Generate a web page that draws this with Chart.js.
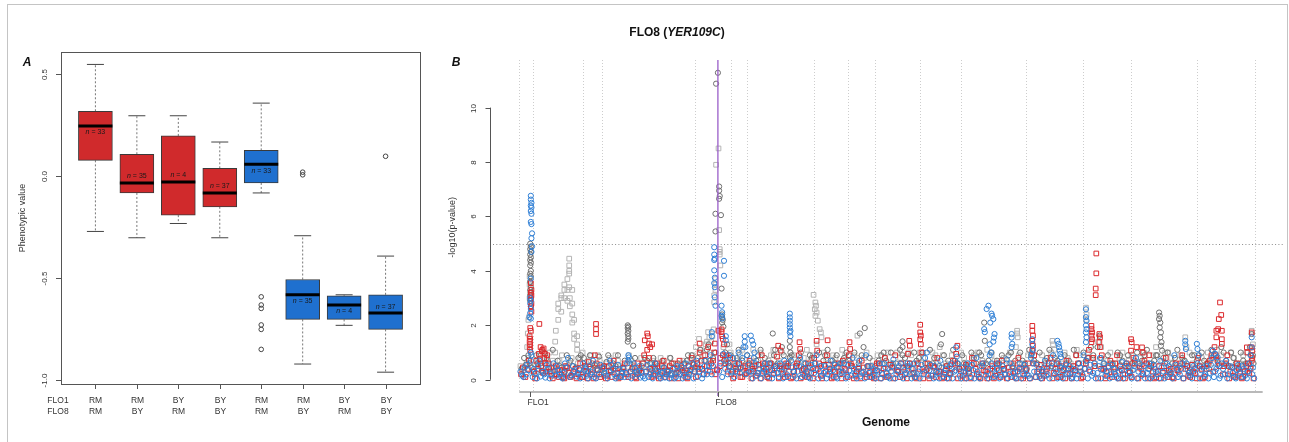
<!DOCTYPE html>
<html>
<head>
<meta charset="utf-8">
<script src="https://cdn.jsdelivr.net/npm/chart.js@4.4.0/dist/chart.umd.min.js"></script>
<style>
  body { margin: 0; background: #fff; width: 1289px; height: 442px; overflow: hidden; position: relative;
         font-family: "Liberation Sans", Arial, sans-serif; color: #111; }
  #frame { position: absolute; left: 7px; top: 4px; width: 1279px; height: 460px;
           border: 1px solid #c4c4c4; border-bottom: none; }
  canvas { position: absolute; top: 0; }
  #phenoChart { left: 0; }
  #genomeChart { left: 440px; }
  .txt { position: absolute; transform: translate(-50%, -50%); line-height: 1; white-space: nowrap; }
  .tag { font-weight: bold; font-style: italic; font-size: 12px; }
  .bold { font-weight: bold; font-size: 12px; }
</style>
</head>
<body>
<div id="frame"></div>
<canvas id="phenoChart" width="440" height="442"></canvas>
<canvas id="genomeChart" width="849" height="442"></canvas>
<div class="txt tag" style="left:27px; top:62px;">A</div>
<div class="txt tag" style="left:456px; top:62px;">B</div>
<div class="txt bold" style="left:677px; top:32px;">FLO8 (<i>YER109C</i>)</div>
<div class="txt bold" style="left:886px; top:422px;">Genome</div>

<script>
// ---------- Panel A: phenotype by FLO1 / FLO8 genotype ----------
const flo1Alleles = ['RM', 'RM', 'BY', 'BY', 'RM', 'RM', 'BY', 'BY'];
const flo8Alleles = ['RM', 'BY', 'RM', 'BY', 'RM', 'BY', 'RM', 'BY'];
const groupSizes = [33, 35, 4, 37, 33, 35, 4, 37];
const whiskerHigh = [0.549, 0.297, 0.297, 0.168, 0.359, -0.292, -0.582, -0.392];
const boxQ3 = [0.319, 0.108, 0.198, 0.039, 0.127, -0.507, -0.587, -0.582];
const medians = [0.247, -0.033, -0.028, -0.082, 0.059, -0.582, -0.632, -0.672];
const boxQ1 = [0.078, -0.082, -0.191, -0.150, -0.033, -0.703, -0.703, -0.752];
const whiskerLow = [-0.271, -0.302, -0.232, -0.302, -0.082, -0.922, -0.732, -0.962];
const groupMeans = [0.216, 0.0, 0.005, -0.049, 0.025, -0.614, -0.664, -0.640];
const outlierGroup = [5, 5, 5, 5, 5, 5, 6, 6, 8];
const outlierValue = [-0.592, -0.632, -0.649, -0.730, -0.752, -0.850, 0.020, 0.007, 0.098];
const phenoTicks = [-1.0, -0.5, 0.0, 0.5];
const groupColors = ['#d02a2c', '#d02a2c', '#d02a2c', '#d02a2c', '#1f70cf', '#1f70cf', '#1f70cf', '#1f70cf'];

// ---------- Panel B: genome scan, positions in Mb ----------
const chrLengths = [0.230, 0.813, 0.317, 1.532, 0.577, 0.270, 1.091, 0.563,
                    0.440, 0.745, 0.667, 1.078, 0.924, 0.784, 1.091, 0.948];
const geneNames = ['FLO1', 'FLO8'];
const genePos = [0.18, 3.26];
const threshold = 5;
const lodTicks = [0, 2, 4, 6, 8, 10];
const axisEnd = 12.2;

const bluePeaks = [
  [0.19,6.76],[0.19,6.62],[0.2,6.5],[0.19,6.4],[0.2,6.33],[0.19,6.2],[0.2,6.1],[0.19,5.8],[0.2,5.72],[0.21,5.38],
  [0.2,5.2],[0.21,4.9],[0.2,4.7],[0.19,3.72],[0.18,3.0],[0.19,2.9],[0.18,2.8],[0.19,2.6],[0.18,2.45],[0.17,2.3],
  [0.19,2.25],[0.19,1.0],[0.2,0.9],[0.19,0.7],
  [1.79,0.9],[1.8,0.82],[1.79,0.7],
  [3.2,4.87],[3.2,4.6],[3.21,4.45],[3.2,4.4],[3.2,4.02],[3.21,3.75],[3.2,3.55],[3.21,3.4],[3.21,3.03],[3.22,2.72],
  [3.36,4.37],[3.36,3.82],[3.32,2.72],[3.33,2.48],[3.32,2.35],[3.33,2.25],[3.39,1.6],[3.39,1.45],[3.16,1.75],[3.16,1.6],
  [3.7,1.6],[3.7,1.4],[3.71,1.2],[3.8,1.62],[3.82,1.44],[3.84,1.3],[3.86,1.0],
  [4.44,2.43],[4.44,2.29],[4.44,2.17],[4.44,2.04],[4.44,1.92],[4.45,1.8],[4.44,1.74],[4.45,1.6],
  [7.17,1.19],
  [7.63,1.86],[7.64,1.75],[7.67,2.6],[7.7,2.72],[7.73,2.1],[7.75,2.43],[7.76,2.35],[7.78,2.23],[7.79,1.55],[7.8,1.68],
  [7.78,1.4],[7.72,1.3],[7.74,1.0],
  [8.08,1.68],[8.08,1.55],[8.09,1.32],[8.08,1.2],
  [8.42,1.49],[8.42,1.3],[8.43,1.1],[8.41,0.95],
  [8.83,1.43],[8.85,1.32],[8.86,1.2],[8.87,1.07],[8.88,0.95],[8.89,0.83],
  [9.3,2.59],[9.3,2.3],[9.31,2.17],[9.3,2.0],[9.31,1.86],[9.3,1.74],[9.31,1.56],[9.3,1.38],
  [10.93,1.43],[10.93,1.3],[10.94,1.13],[11.12,1.32],[11.13,1.13],
  [11.38,1.07],[11.42,0.95],[11.46,0.83],[12.02,1.56],[12.02,1.19]
];
const blueBand = [
  [0.02,0.3],[0.05,0.15],[0.09,0.45],[0.12,0.2],[0.15,0.35],[0.22,0.1],[0.27,0.25],[0.31,0.5],[0.35,0.12],[0.39,0.3],
  [0.43,0.08],[0.47,0.4],[0.52,0.2],[0.56,0.6],[0.6,0.15],[0.64,0.35],[0.69,0.1],[0.73,0.25],[0.77,0.45],[0.8,0.8],
  [0.85,0.18],[0.9,0.3],[0.94,0.12],[0.98,0.4],[1.02,0.22],[1.07,0.35],[1.11,0.15],[1.15,0.5],[1.19,0.28],[1.23,0.1],
  [1.28,0.35],[1.31,0.2],[1.38,0.45],[1.42,0.15],[1.47,0.3],[1.51,0.55],[1.56,0.2],[1.6,0.12],[1.64,0.38],[1.69,0.25],
  [1.73,0.1],[1.77,0.6],[1.82,0.3],[1.86,0.15],[1.9,0.42],[1.95,0.2],[1.99,0.08],[2.03,0.12],[2.08,0.3],[2.12,0.1],
  [2.17,0.45],[2.21,0.2],[2.25,0.35],[2.3,0.12],[2.34,0.25],[2.39,0.08],[2.43,0.3],[2.48,0.18],[2.52,0.4],[2.57,0.1],
  [2.61,0.28],[2.66,0.5],[2.7,0.15],[2.75,0.35],[2.79,0.22],[2.84,0.6],[2.88,0.3],[2.93,0.12],[2.97,0.45],[3.02,0.2],
  [3.06,0.7],[3.1,0.35],[3.14,0.9],[3.18,0.5],[3.3,0.6],[3.35,0.95],[3.38,0.4],[3.42,0.2],[3.46,0.5],[3.51,0.8],
  [3.55,0.3],[3.6,1.0],[3.64,0.45],[3.68,1.2],[3.72,0.2],[3.76,0.55],[3.81,0.3],[3.85,0.8],[3.9,0.15],[3.94,0.4],
  [3.99,0.25],[4.03,0.6],[4.08,0.12],[4.12,0.35],[4.17,0.2],[4.21,0.5],[4.26,0.1],[4.3,0.3],[4.35,0.7],[4.39,0.2],
  [4.48,0.45],[4.52,0.15],[4.57,0.3],[4.61,0.8],[4.66,0.2],[4.7,0.4],[4.75,0.1],[4.79,0.55],[4.84,0.25],[4.88,0.9],
  [4.93,0.3],[4.97,0.15],[5.02,0.5],[5.06,0.2],[5.11,0.7],[5.15,0.35],[5.2,0.1],[5.24,0.45],[5.29,0.25],[5.33,0.6],
  [5.38,0.15],[5.42,0.35],[5.47,0.8],[5.51,0.2],[5.56,0.45],[5.6,0.12],[5.65,0.3],[5.69,0.9],[5.74,0.25],[5.78,0.5],
  [5.83,0.15],[5.87,0.35],[5.92,0.6],[5.96,0.2],[6.01,0.45],[6.05,0.1],[6.1,0.3],[6.14,0.75],[6.19,0.2],[6.23,0.5],
  [6.28,0.15],[6.32,0.35],[6.37,0.6],[6.41,0.2],[6.46,0.4],[6.5,0.1],[6.55,0.3],[6.6,0.55],[6.64,0.2],[6.69,1.0],
  [6.73,0.35],[6.78,0.15],[6.82,0.5],[6.87,0.25],[6.91,0.7],[6.96,0.12],[7.0,0.4],[7.05,0.2],[7.09,0.6],[7.14,0.3],
  [7.18,0.85],[7.23,0.15],[7.27,0.45],[7.32,0.25],[7.36,0.6],[7.41,0.1],[7.45,0.35],[7.5,0.8],[7.54,0.2],[7.59,0.5],
  [7.68,0.3],[7.72,0.9],[7.77,0.4],[7.82,0.2],[7.86,0.6],[7.91,0.15],[7.95,0.35],[8.0,0.75],[8.04,0.2],[8.09,0.45],
  [8.13,0.1],[8.18,0.3],[8.22,0.6],[8.27,0.2],[8.31,0.4],[8.36,0.15],[8.4,0.8],[8.45,0.3],[8.49,0.55],[8.54,0.12],
  [8.58,0.35],[8.63,0.7],[8.67,0.2],[8.72,0.45],[8.76,0.9],[8.81,0.3],[8.85,0.6],[8.9,0.15],[8.94,0.4],[8.99,0.2],
  [9.03,0.5],[9.08,0.1],[9.12,0.3],[9.17,0.2],[9.21,0.45],[9.26,0.9],[9.31,0.7],[9.35,0.35],[9.4,0.15],[9.44,0.6],
  [9.49,0.25],[9.53,0.8],[9.58,0.35],[9.62,0.15],[9.67,0.5],[9.71,0.2],[9.76,0.4],[9.8,0.1],[9.85,0.3],[9.89,0.65],
  [9.94,0.2],[9.98,0.45],[10.03,0.15],[10.07,0.35],[10.12,0.8],[10.16,0.3],[10.21,0.15],[10.25,0.5],[10.3,0.25],[10.34,0.6],
  [10.39,0.12],[10.43,0.4],[10.48,0.2],[10.52,0.7],[10.57,0.3],[10.61,0.15],[10.66,0.5],[10.7,0.25],[10.75,0.9],[10.79,0.4],
  [10.84,0.2],[10.88,0.6],[10.97,0.35],[11.01,0.15],[11.06,0.5],[11.1,0.2],[11.15,0.9],[11.19,0.35],[11.24,0.15],[11.28,0.5],
  [11.33,0.25],[11.37,0.8],[11.42,0.3],[11.46,0.55],[11.51,0.15],[11.55,0.4],[11.6,0.7],[11.64,0.2],[11.69,0.45],[11.73,0.1],
  [11.78,0.35],[11.82,0.25],[11.87,0.5],[11.91,0.15],[11.96,0.3],[12.0,0.9],[12.04,0.45]
];
const blueBandLow = [
  [0.07,0.1],[0.13,0.55],[0.24,0.4],[0.29,0.05],[0.33,0.7],[0.41,0.2],[0.45,0.55],[0.5,0.05],[0.58,0.3],[0.62,0.5],
  [0.67,0.2],[0.71,0.05],[0.75,0.6],[0.83,0.1],[0.88,0.5],[0.96,0.25],[1.0,0.05],[1.05,0.6],[1.09,0.4],[1.13,0.05],
  [1.17,0.2],[1.21,0.7],[1.26,0.05],[1.33,0.55],[1.4,0.25],[1.45,0.05],[1.49,0.7],[1.54,0.4],[1.58,0.05],[1.62,0.55],
  [1.67,0.1],[1.71,0.4],[1.75,0.25],[1.84,0.05],[1.88,0.6],[1.93,0.3],[1.97,0.5],[2.01,0.3],[2.06,0.05],[2.1,0.55],
  [2.15,0.2],[2.19,0.05],[2.23,0.6],[2.28,0.3],[2.32,0.05],[2.37,0.45],[2.41,0.2],[2.46,0.05],[2.5,0.25],[2.55,0.05],
  [2.59,0.5],[2.64,0.2],[2.68,0.05],[2.73,0.6],[2.77,0.1],[2.82,0.4],[2.86,0.05],[2.91,0.7],[2.95,0.3],[3.0,0.05],
  [3.04,0.5],[3.08,0.2],[3.12,0.5],[3.16,0.2],[3.28,0.3],[3.33,0.1],[3.4,0.7],[3.44,0.9],[3.48,0.3],[3.53,0.1],
  [3.58,0.6],[3.62,0.25],[3.66,0.8],[3.74,0.9],[3.78,0.3],[3.83,0.05],[3.88,0.6],[3.92,0.25],[3.97,0.05],[4.01,0.4],
  [4.05,0.3],[4.1,0.6],[4.15,0.05],[4.19,0.4],[4.24,0.25],[4.28,0.6],[4.33,0.05],[4.37,0.45],[4.41,0.1],[4.46,0.7],
  [4.5,0.3],[4.55,0.05],[4.59,0.5],[4.64,0.1],[4.68,0.6],[4.73,0.3],[4.77,0.05],[4.82,0.4],[4.86,0.6],[4.91,0.05],
  [4.95,0.5],[5.0,0.25],[5.04,0.05],[5.09,0.4],[5.13,0.15],[5.18,0.55],[5.22,0.05],[5.27,0.6],[5.31,0.3],[5.36,0.05],
  [5.4,0.55],[5.45,0.15],[5.49,0.4],[5.54,0.05],[5.58,0.7],[5.63,0.25],[5.67,0.05],[5.72,0.5],[5.76,0.1],[5.81,0.4],
  [5.85,0.05],[5.9,0.3],[5.94,0.05],[5.99,0.6],[6.03,0.25],[6.08,0.05],[6.12,0.5],[6.17,0.05],[6.21,0.35],[6.26,0.6],
  [6.3,0.05],[6.35,0.25],[6.39,0.5],[6.44,0.05],[6.48,0.6],[6.53,0.2],[6.57,0.05],[6.62,0.4],[6.66,0.8],[6.71,0.15],
  [6.75,0.55],[6.8,0.05],[6.84,0.3],[6.89,0.05],[6.93,0.45],[6.98,0.25],[7.02,0.05],[7.07,0.5],[7.11,0.05],[7.16,0.35],
  [7.2,0.6],[7.25,0.05],[7.29,0.3],[7.34,0.05],[7.38,0.4],[7.43,0.55],[7.47,0.05],[7.52,0.3],[7.56,0.05],[7.61,0.6],
  [7.66,0.15],[7.7,0.05],[7.75,0.6],[7.79,0.1],[7.84,0.4],[7.88,0.05],[7.93,0.5],[7.97,0.2],[8.02,0.05],[8.06,0.6],
  [8.11,0.25],[8.15,0.05],[8.2,0.4],[8.24,0.05],[8.29,0.55],[8.33,0.2],[8.38,0.05],[8.43,0.6],[8.47,0.1],[8.52,0.3],
  [8.56,0.05],[8.61,0.45],[8.65,0.15],[8.7,0.05],[8.74,0.6],[8.79,0.2],[8.83,0.05],[8.88,0.45],[8.92,0.05],[8.97,0.55],
  [9.01,0.25],[9.06,0.05],[9.1,0.4],[9.15,0.05],[9.19,0.6],[9.24,0.2],[9.28,0.4],[9.33,0.05],[9.37,0.55],[9.42,0.25],
  [9.46,0.05],[9.51,0.5],[9.55,0.05],[9.6,0.6],[9.64,0.3],[9.69,0.05],[9.73,0.55],[9.78,0.2],[9.82,0.05],[9.87,0.4],
  [9.91,0.05],[9.96,0.6],[10.0,0.3],[10.05,0.05],[10.09,0.5],[10.14,0.05],[10.18,0.6],[10.23,0.25],[10.27,0.05],[10.32,0.4],
  [10.36,0.05],[10.41,0.55],[10.45,0.3],[10.5,0.05],[10.54,0.45],[10.59,0.05],[10.63,0.6],[10.68,0.2],[10.72,0.05],[10.77,0.55],
  [10.81,0.1],[10.86,0.4],[10.9,0.05],[10.95,0.6],[10.99,0.25],[11.04,0.05],[11.08,0.4],[11.13,0.6],[11.17,0.05],[11.22,0.45],
  [11.26,0.2],[11.31,0.05],[11.35,0.55],[11.4,0.1],[11.44,0.4],[11.49,0.05],[11.53,0.6],[11.58,0.2],[11.62,0.05],[11.67,0.5],
  [11.71,0.25],[11.76,0.05],[11.8,0.55],[11.85,0.1],[11.89,0.4],[11.94,0.05],[11.98,0.6],[12.03,0.2],[12.06,0.05]
];

const redPeaks = [
  [0.19,3.55],[0.2,3.3],[0.19,3.2],[0.2,3.1],[0.19,3.0],[0.2,2.8],[0.19,2.7],[0.2,2.5],[0.33,2.05],[0.18,1.9],
  [0.19,1.8],[0.17,1.6],[0.18,1.5],[0.17,1.4],[0.18,1.3],[0.17,1.2],[0.18,1.1],
  [0.35,1.2],[0.37,1.05],[0.4,1.15],[0.42,0.95],
  [1.26,2.05],[1.26,1.86],[1.26,1.68],
  [2.06,1.45],[2.1,1.7],[2.11,1.6],[2.13,1.33],[2.15,1.2],[2.18,1.3],
  [2.96,1.33],[3.21,1.33],[3.22,0.2],
  [3.27,1.8],[3.32,1.85],[3.32,1.75],[3.33,1.6],[3.34,1.5],[3.25,0.35],[3.24,0.38],
  [4.25,1.25],[4.29,1.07],[4.6,1.38],[4.61,1.13],[4.88,1.43],[4.89,1.07],[5.06,1.45],[5.42,1.38],[5.43,1.13],
  [6.4,1.43],[6.41,1.25],[6.58,2.02],[6.58,1.74],[6.59,1.62],[6.58,1.49],[6.59,1.3],[7.19,1.25],
  [8.42,1.98],[8.42,1.8],[8.43,1.62],[8.42,1.43],[8.43,1.25],[8.42,1.07],
  [9.39,1.98],[9.39,1.86],[9.4,1.74],[9.39,1.62],[9.4,1.49],[9.39,1.38],
  [9.47,4.64],[9.47,3.91],[9.46,3.35],[9.46,3.11],
  [9.52,1.68],[9.53,1.56],[9.52,1.38],[9.53,1.2],
  [10.04,1.49],[10.05,1.38],[10.04,1.07],[10.22,1.19],[10.23,1.0],
  [11.5,2.84],[11.52,2.38],[11.48,2.23],[11.47,1.86],[11.44,1.8],[11.44,1.56],[11.53,1.8],[11.53,1.49],[11.53,1.32],
  [11.94,1.19],[11.95,1.0],[12.02,1.74],[12.02,1.19],[12.03,1.07],[12.02,0.7]
];
const redBand = [
  [0.03,0.2],[0.1,0.1],[0.14,0.4],[0.24,0.3],[0.28,0.7],[0.32,0.95],[0.36,0.5],[0.38,1.1],[0.41,0.8],[0.44,0.3],
  [0.48,0.6],[0.53,0.15],[0.57,0.45],[0.62,0.2],[0.67,0.35],[0.72,0.1],[0.76,0.5],[0.81,0.25],[0.86,0.15],[0.92,0.4],
  [0.97,0.2],[1.0,0.6],[1.05,0.1],[1.1,0.3],[1.14,0.65],[1.2,0.2],[1.24,0.9],[1.29,0.35],[1.33,0.1],[1.39,0.5],
  [1.45,0.15],[1.5,0.35],[1.55,0.7],[1.61,0.25],[1.66,0.1],[1.71,0.45],[1.76,0.2],[1.83,0.3],[1.9,0.1],[1.94,0.6],
  [2.0,0.25],[2.05,0.9],[2.1,1.1],[2.15,0.4],[2.2,0.15],[2.26,0.6],[2.32,0.3],[2.37,0.7],[2.42,0.2],[2.47,0.5],
  [2.53,0.6],[2.58,0.25],[2.63,0.7],[2.68,0.35],[2.73,0.1],[2.78,0.5],[2.83,0.8],[2.88,0.3],[2.92,0.6],[2.96,1.0],
  [3.0,0.4],[3.05,0.9],[3.1,1.2],[3.15,0.6],[3.2,1.0],[3.3,0.8],[3.36,1.3],[3.4,0.9],[3.44,0.5],[3.48,0.2],
  [3.53,0.6],[3.58,0.3],[3.63,0.1],[3.67,0.45],[3.73,0.25],[3.78,0.7],[3.83,0.4],[3.88,0.15],[3.93,0.55],[3.98,0.9],
  [4.02,0.3],[4.07,0.1],[4.12,0.6],[4.18,0.25],[4.23,0.85],[4.28,0.5],[4.33,0.2],[4.38,0.6],[4.43,0.3],[4.49,0.1],
  [4.54,0.5],[4.59,0.9],[4.64,0.35],[4.69,0.15],[4.74,0.6],[4.79,0.25],[4.84,0.8],[4.9,0.4],[4.95,0.15],[5.0,0.55],
  [5.05,0.9],[5.1,0.3],[5.16,0.1],[5.21,0.45],[5.26,0.2],[5.31,0.7],[5.36,0.35],[5.41,0.9],[5.46,0.5],[5.52,0.15],
  [5.57,0.4],[5.62,0.7],[5.68,0.2],[5.73,0.5],[5.79,0.1],[5.85,0.35],[5.9,0.6],[5.95,0.25],[6.0,0.8],[6.06,0.15],
  [6.12,0.45],[6.17,0.9],[6.22,0.3],[6.27,0.6],[6.33,0.2],[6.38,0.95],[6.44,0.4],[6.49,0.1],[6.54,0.6],[6.6,1.0],
  [6.65,0.3],[6.7,0.6],[6.76,0.15],[6.81,0.45],[6.86,0.8],[6.91,0.3],[6.97,0.1],[7.02,0.5],[7.07,0.25],[7.12,0.7],
  [7.17,0.95],[7.22,0.4],[7.28,0.15],[7.33,0.55],[7.38,0.25],[7.43,0.8],[7.49,0.4],[7.54,0.1],[7.6,0.6],[7.65,0.3],
  [7.7,0.2],[7.76,0.5],[7.81,0.15],[7.87,0.35],[7.92,0.7],[7.97,0.2],[8.03,0.45],[8.08,0.1],[8.14,0.3],[8.19,0.8],
  [8.24,0.4],[8.29,0.15],[8.35,0.6],[8.45,0.9],[8.5,0.3],[8.56,0.55],[8.61,0.15],[8.66,0.4],[8.72,0.8],[8.77,0.25],
  [8.82,0.6],[8.88,0.1],[8.93,0.35],[8.98,0.7],[9.04,0.2],[9.09,0.5],[9.14,0.9],[9.2,0.3],[9.25,0.1],[9.3,0.6],
  [9.35,1.1],[9.42,0.8],[9.56,0.9],[9.6,0.4],[9.65,0.15],[9.7,0.7],[9.76,0.3],[9.81,0.9],[9.86,0.5],[9.91,0.2],
  [9.97,0.6],[10.02,0.25],[10.08,0.8],[10.13,1.2],[10.18,0.45],[10.24,0.2],[10.29,0.6],[10.34,0.9],[10.4,0.3],[10.45,0.1],
  [10.5,0.5],[10.56,0.25],[10.61,0.8],[10.66,0.35],[10.72,0.1],[10.77,0.6],[10.82,0.3],[10.88,0.9],[10.93,0.4],[10.98,0.15],
  [11.04,0.55],[11.09,0.25],[11.14,0.8],[11.2,0.4],[11.25,0.1],[11.3,0.6],[11.36,0.9],[11.41,1.2],[11.46,0.7],[11.57,0.5],
  [11.62,0.9],[11.67,0.3],[11.72,0.15],[11.78,0.6],[11.83,0.3],[11.88,0.1],[11.93,0.5],[11.98,0.25],[12.03,0.8]
];
const redBandLow = [
  [0.06,0.45],[0.16,0.7],[0.26,0.05],[0.3,0.4],[0.34,0.75],[0.39,0.25],[0.43,0.6],[0.46,0.9],[0.5,0.3],[0.55,0.05],
  [0.6,0.5],[0.65,0.1],[0.7,0.35],[0.74,0.05],[0.79,0.45],[0.84,0.1],[0.89,0.3],[0.94,0.05],[0.99,0.35],[1.03,0.1],
  [1.08,0.5],[1.12,0.05],[1.17,0.4],[1.22,0.05],[1.27,0.6],[1.31,0.2],[1.36,0.45],[1.42,0.05],[1.47,0.5],[1.52,0.1],
  [1.58,0.4],[1.63,0.05],[1.68,0.3],[1.73,0.6],[1.79,0.1],[1.86,0.45],[1.92,0.05],[1.97,0.35],[2.03,0.6],[2.08,0.3],
  [2.13,0.8],[2.17,0.1],[2.23,0.4],[2.29,0.05],[2.34,0.5],[2.4,0.1],[2.45,0.35],[2.5,0.05],[2.55,0.4],[2.61,0.05],
  [2.66,0.45],[2.71,0.25],[2.76,0.05],[2.81,0.35],[2.86,0.6],[2.9,0.1],[2.94,0.4],[2.99,0.7],[3.03,0.2],[3.08,0.5],
  [3.13,0.3],[3.18,0.7],[3.29,0.5],[3.34,0.9],[3.38,0.6],[3.42,0.3],[3.46,0.8],[3.51,0.05],[3.56,0.4],[3.61,0.6],
  [3.66,0.1],[3.71,0.5],[3.76,0.3],[3.81,0.05],[3.86,0.5],[3.91,0.25],[3.96,0.05],[4.0,0.6],[4.05,0.4],[4.1,0.05],
  [4.15,0.35],[4.2,0.5],[4.26,0.05],[4.31,0.4],[4.36,0.1],[4.41,0.5],[4.46,0.05],[4.51,0.3],[4.56,0.6],[4.62,0.05],
  [4.67,0.4],[4.72,0.1],[4.77,0.45],[4.82,0.05],[4.87,0.35],[4.92,0.6],[4.97,0.05],[5.03,0.3],[5.08,0.55],[5.13,0.05],
  [5.18,0.3],[5.24,0.6],[5.29,0.05],[5.34,0.4],[5.39,0.1],[5.44,0.6],[5.49,0.05],[5.54,0.3],[5.6,0.05],[5.65,0.45],
  [5.7,0.1],[5.76,0.3],[5.82,0.05],[5.87,0.6],[5.93,0.05],[5.98,0.4],[6.03,0.1],[6.09,0.55],[6.14,0.05],[6.2,0.35],
  [6.25,0.1],[6.3,0.45],[6.36,0.05],[6.41,0.6],[6.47,0.25],[6.52,0.05],[6.57,0.4],[6.63,0.05],[6.68,0.35],[6.73,0.05],
  [6.79,0.5],[6.84,0.1],[6.89,0.3],[6.94,0.05],[7.0,0.35],[7.05,0.05],[7.1,0.4],[7.15,0.6],[7.2,0.05],[7.25,0.3],
  [7.31,0.05],[7.36,0.4],[7.41,0.05],[7.46,0.6],[7.51,0.2],[7.57,0.05],[7.62,0.35],[7.68,0.05],[7.73,0.4],[7.79,0.05],
  [7.84,0.6],[7.9,0.1],[7.95,0.4],[8.0,0.05],[8.06,0.3],[8.11,0.6],[8.16,0.05],[8.21,0.45],[8.27,0.05],[8.32,0.35],
  [8.38,0.05],[8.44,0.6],[8.48,0.1],[8.53,0.4],[8.58,0.05],[8.64,0.3],[8.69,0.6],[8.75,0.05],[8.8,0.4],[8.85,0.1],
  [8.9,0.5],[8.96,0.05],[9.01,0.4],[9.07,0.05],[9.12,0.35],[9.17,0.6],[9.22,0.05],[9.28,0.4],[9.33,0.8],[9.37,0.3],
  [9.44,0.5],[9.5,0.05],[9.55,0.4],[9.62,0.05],[9.67,0.45],[9.73,0.1],[9.78,0.6],[9.84,0.05],[9.89,0.35],[9.94,0.05],
  [10.0,0.5],[10.05,0.1],[10.1,0.6],[10.16,0.05],[10.21,0.4],[10.26,0.7],[10.32,0.05],[10.37,0.5],[10.42,0.05],[10.48,0.3],
  [10.53,0.05],[10.58,0.5],[10.64,0.1],[10.69,0.4],[10.74,0.05],[10.8,0.35],[10.85,0.6],[10.9,0.05],[10.96,0.5],[11.01,0.1],
  [11.06,0.3],[11.12,0.05],[11.17,0.5],[11.22,0.05],[11.28,0.4],[11.33,0.7],[11.39,0.3],[11.43,0.9],[11.49,0.5],[11.55,0.2],
  [11.6,0.6],[11.65,0.05],[11.7,0.45],[11.75,0.1],[11.81,0.4],[11.86,0.05],[11.91,0.3],[11.96,0.6],[12.0,0.4],[12.05,0.05]
];

const darkGrayPeaks = [
  [0.18,5.0],[0.19,4.9],[0.18,4.8],[0.19,4.7],[0.18,4.6],[0.19,4.5],[0.18,4.4],[0.19,4.3],[0.18,4.2],[0.19,4.0],
  [0.18,3.9],[0.19,3.8],[0.18,3.6],[0.19,3.4],[0.18,3.3],[0.19,3.2],[0.18,3.1],[0.19,3.0],[0.18,2.9],[0.19,2.7],
  [0.15,0.9],[0.17,0.6],
  [1.78,2.0],[1.79,1.95],[1.78,1.9],[1.79,1.8],[1.78,1.7],[1.79,1.6],[1.79,1.5],[1.78,1.4],[1.87,1.25],
  [2.06,0.8],[2.1,0.7],[2.15,0.6],[2.77,0.9],
  [3.26,11.28],[3.23,10.88],[3.28,7.1],[3.28,6.95],[3.29,6.75],[3.28,6.65],[3.31,6.05],[3.22,6.1],[3.22,5.45],
  [3.32,3.35],[3.33,2.4],[3.33,2.3],[3.34,2.2],[3.33,2.1],[3.35,1.95],
  [4.16,1.7],[4.44,1.43],[4.44,1.2],[4.45,1.0],[4.44,0.82],
  [5.59,1.7],[5.67,1.9],[6.29,1.41],[6.29,1.2],[6.94,1.68],[7.63,2.1],[7.64,1.43],[9.52,1.62],
  [10.5,2.47],[10.51,2.35],[10.5,2.23],[10.52,2.1],[10.51,1.92],[10.53,1.74],[10.52,1.56],[10.54,1.38],[10.53,1.25],[10.55,1.07],
  [12.02,1.68]
];
const darkGrayBand = [
  [0.04,0.4],[0.11,0.55],[0.25,0.2],[0.3,0.6],[0.37,0.3],[0.45,0.8],[0.52,0.45],[0.58,0.2],[0.66,0.5],[0.75,0.3],
  [0.84,0.7],[0.93,0.45],[1.01,0.9],[1.06,0.8],[1.13,0.3],[1.2,0.6],[1.27,0.4],[1.35,0.2],[1.43,0.65],[1.5,0.3],
  [1.58,0.5],[1.66,0.15],[1.73,0.7],[1.85,0.4],[1.93,0.2],[2.01,0.5],[2.18,0.35],[2.24,0.6],[2.31,0.2],[2.38,0.45],
  [2.45,0.3],[2.5,0.6],[2.56,0.2],[2.64,0.4],[2.71,0.6],[2.8,0.3],[2.86,0.55],[2.93,0.8],[3.0,0.4],[3.08,1.1],
  [3.13,0.7],[3.22,1.0],[3.38,1.0],[3.43,0.6],[3.5,0.3],[3.57,0.8],[3.62,0.4],[3.7,0.2],[3.77,0.6],[3.85,0.3],
  [3.92,0.9],[4.0,0.5],[4.06,0.2],[4.14,0.6],[4.2,1.1],[4.27,0.4],[4.34,0.9],[4.42,0.6],[4.5,0.3],[4.58,0.7],
  [4.66,0.4],[4.73,0.2],[4.8,0.8],[4.95,0.5],[5.02,0.9],[5.1,0.4],[5.18,0.6],[5.25,0.3],[5.33,0.8],[5.45,0.5],
  [5.53,0.3],[5.62,0.9],[5.71,0.5],[5.8,0.2],[5.9,0.7],[5.98,1.0],[6.05,0.4],[6.13,0.6],[6.22,0.3],[6.29,0.9],
  [6.36,0.5],[6.45,0.2],[6.52,0.7],[6.62,1.0],[6.7,0.4],[6.78,0.6],[6.85,0.3],[6.92,1.3],[7.0,0.5],[7.08,0.2],
  [7.15,0.7],[7.23,0.4],[7.3,0.6],[7.38,0.3],[7.46,0.8],[7.55,1.0],[7.62,0.5],[7.7,0.7],[7.8,0.3],[7.88,0.6],
  [7.96,0.4],[8.03,0.9],[8.1,0.5],[8.18,0.3],[8.26,0.7],[8.33,0.4],[8.4,0.9],[8.5,0.6],[8.58,0.3],[8.66,0.8],
  [8.74,0.5],[8.83,0.7],[8.91,0.3],[8.98,0.6],[9.06,0.4],[9.14,0.9],[9.22,0.3],[9.3,0.7],[9.38,1.2],[9.45,0.5],
  [9.55,0.8],[9.63,0.3],[9.7,0.6],[9.78,0.4],[9.86,0.9],[9.95,0.5],[10.02,0.3],[10.1,0.7],[10.18,0.5],[10.26,0.9],
  [10.34,0.4],[10.42,0.7],[10.47,0.9],[10.6,0.6],[10.68,0.3],[10.76,0.8],[10.84,0.5],[10.92,0.7],[11.0,0.3],[11.08,0.9],
  [11.16,0.5],[11.24,0.7],[11.32,0.4],[11.4,0.9],[11.48,0.6],[11.56,1.0],[11.64,0.5],[11.72,0.8],[11.8,0.4],[11.88,0.7],
  [11.95,0.3],[12.01,0.9],[12.05,0.6]
];
const darkGrayBandHigh = [
  [0.08,0.8],[0.2,0.45],[0.28,0.9],[0.35,0.6],[0.41,1.0],[0.49,0.4],[0.55,1.1],[0.63,0.7],[0.7,0.45],[0.78,0.9],
  [0.88,0.5],[0.97,0.8],[1.09,0.5],[1.16,0.9],[1.24,0.55],[1.31,0.85],[1.39,0.4],[1.46,0.9],[1.54,0.6],[1.62,0.9],
  [1.7,0.45],[1.82,0.6],[1.9,0.8],[1.98,0.4],[2.2,0.8],[2.27,0.5],[2.35,0.7],[2.42,0.35],[2.48,0.8],[2.6,0.6],
  [2.68,0.35],[2.75,0.7],[2.83,0.9],[2.9,0.5],[2.97,1.1],[3.04,0.7],[3.11,1.3],[3.18,0.8],[3.36,0.7],[3.41,1.3],
  [3.47,0.9],[3.54,0.5],[3.6,1.1],[3.66,0.7],[3.74,0.9],[3.82,0.5],[3.89,0.7],[3.96,1.1],[4.03,0.8],[4.1,0.45],
  [4.18,0.9],[4.24,0.6],[4.31,1.2],[4.38,0.5],[4.47,0.9],[4.55,0.5],[4.62,1.0],[4.7,0.6],[4.77,0.9],[4.85,0.6],
  [4.92,1.0],[4.99,0.7],[5.06,1.1],[5.14,0.7],[5.21,0.9],[5.29,0.6],[5.37,1.0],[5.42,0.7],[5.5,1.0],[5.57,0.6],
  [5.65,1.2],[5.75,0.8],[5.84,0.5],[5.94,0.9],[6.02,0.7],[6.1,1.0],[6.18,0.6],[6.25,1.1],[6.33,0.8],[6.41,0.6],
  [6.48,1.0],[6.56,0.8],[6.66,0.6],[6.74,1.1],[6.81,0.8],[6.89,0.5],[6.97,0.9],[7.04,0.7],[7.12,1.1],[7.19,0.6],
  [7.27,0.9],[7.34,0.5],[7.42,1.0],[7.5,0.6],[7.58,0.9],[7.66,0.6],[7.75,1.0],[7.84,0.7],[7.92,0.9],[8.0,0.6],
  [8.07,1.0],[8.14,0.7],[8.22,1.0],[8.3,0.6],[8.37,1.1],[8.45,0.7],[8.54,1.0],[8.62,0.6],[8.7,1.1],[8.79,0.8],
  [8.87,0.5],[8.95,0.9],[9.02,0.7],[9.1,1.1],[9.18,0.6],[9.26,1.0],[9.34,0.8],[9.42,0.9],[9.49,1.2],[9.59,0.6],
  [9.66,0.9],[9.74,0.6],[9.82,1.0],[9.9,0.7],[9.99,0.9],[10.06,0.6],[10.14,1.0],[10.22,0.7],[10.3,1.1],[10.38,0.6],
  [10.45,0.9],[10.57,0.8],[10.64,1.0],[10.72,0.6],[10.8,1.1],[10.88,0.8],[10.96,0.5],[11.04,0.9],[11.12,0.7],[11.2,1.0],
  [11.28,0.6],[11.36,1.1],[11.44,0.8],[11.52,1.2],[11.6,0.7],[11.68,1.0],[11.76,0.6],[11.84,1.0],[11.92,0.6],[11.99,1.2],
  [12.04,0.9]
];

const lightGrayPeaks = [
  [0.17,3.8],[0.18,3.6],[0.17,3.5],[0.18,3.2],[0.17,3.0],[0.16,2.3],[0.15,2.2],[0.14,1.7],[0.13,1.2],
  [0.59,1.0],[0.59,1.4],[0.6,1.8],[0.64,2.8],[0.64,2.6],[0.64,2.2],[0.69,3.1],[0.69,3.0],[0.69,2.5],[0.74,3.5],
  [0.74,3.3],[0.74,3.0],[0.79,3.7],[0.79,3.3],[0.79,2.9],[0.82,4.45],[0.82,4.2],[0.82,4.0],[0.82,3.9],[0.82,3.4],
  [0.83,3.0],[0.83,2.7],[0.87,3.3],[0.87,2.8],[0.87,2.4],[0.87,2.1],[0.9,2.2],[0.9,1.7],[0.9,1.5],[0.95,1.6],
  [0.95,1.3],[0.95,1.1],
  [3.27,8.5],[3.23,7.9],[3.28,5.5],[3.29,4.8],[3.29,4.7],[3.29,4.6],[3.3,4.2],[3.22,3.7],[3.22,3.5],[3.22,3.3],
  [3.2,3.1],[3.2,2.85],[3.19,1.85],[3.1,1.75],[3.12,1.55],[3.08,1.4],
  [4.83,3.12],[4.86,2.84],[4.87,2.72],[4.85,2.59],[4.88,2.47],[4.86,2.35],[4.9,2.17],[4.93,1.86],[4.95,1.74],
  [4.96,1.56],[4.88,1.3],[5.55,1.62],
  [8.17,1.8],[8.17,1.7],[8.18,1.56],[8.75,1.43],[8.76,1.3],[9.3,2.65],[9.31,2.4],[9.3,2.2],[10.93,1.56],[12.02,1.8]
];
const lightGrayBand = [
  [0.02,0.5],[0.08,0.35],[0.15,0.8],[0.26,0.5],[0.34,0.9],[0.42,0.6],[0.5,1.0],[0.55,0.7],[0.62,0.4],[0.7,0.9],
  [0.78,0.5],[0.86,0.8],[0.96,0.6],[1.04,1.0],[1.1,0.6],[1.18,0.9],[1.25,0.5],[1.32,0.7],[1.4,0.4],[1.48,0.8],
  [1.54,0.5],[1.62,0.7],[1.7,0.4],[1.8,0.9],[1.88,0.5],[1.97,0.3],[2.04,0.6],[2.13,0.4],[2.2,0.7],[2.28,0.4],
  [2.35,0.6],[2.44,0.3],[2.5,0.6],[2.6,0.4],[2.69,0.7],[2.77,0.5],[2.85,0.9],[2.9,1.2],[2.95,1.5],[3.02,0.9],
  [3.15,1.4],[3.35,1.2],[3.42,0.8],[3.47,1.0],[3.55,0.6],[3.62,0.9],[3.7,0.5],[3.8,0.8],[3.88,0.5],[3.96,1.0],
  [4.05,0.6],[4.13,0.9],[4.22,0.5],[4.31,1.0],[4.4,0.6],[4.5,0.9],[4.62,0.5],[4.72,1.1],[4.78,0.7],[5.0,1.0],
  [5.08,0.6],[5.15,0.9],[5.23,0.5],[5.3,1.1],[5.4,0.7],[5.5,0.9],[5.58,0.5],[5.66,0.8],[5.75,0.5],[5.88,0.9],
  [5.96,0.6],[6.05,1.0],[6.14,0.5],[6.25,0.8],[6.34,0.4],[6.43,0.9],[6.52,0.6],[6.63,0.8],[6.74,0.5],[6.83,0.9],
  [6.9,1.2],[7.0,0.6],[7.1,0.9],[7.2,0.5],[7.3,0.8],[7.4,0.5],[7.52,1.0],[7.6,0.7],[7.75,0.9],[7.85,0.5],
  [7.95,0.8],[8.05,1.0],[8.15,1.2],[8.25,0.6],[8.35,0.9],[8.48,0.6],[8.58,0.9],[8.68,0.5],[8.78,1.1],[8.9,0.6],
  [9.0,0.8],[9.1,0.5],[9.2,0.9],[9.33,1.0],[9.45,0.6],[9.55,1.2],[9.65,0.7],[9.75,0.4],[9.85,0.8],[9.95,0.5],
  [10.05,0.9],[10.15,0.6],[10.25,1.0],[10.35,0.5],[10.45,1.2],[10.55,0.7],[10.65,1.0],[10.75,0.5],[10.85,0.9],[10.95,1.2],
  [11.05,0.6],[11.15,0.9],[11.25,0.5],[11.35,0.8],[11.45,1.1],[11.58,0.6],[11.68,1.0],[11.78,0.5],[11.88,0.9],[11.98,0.6],
  [12.04,1.3]
];
const lightGrayBandMid = [
  [0.05,0.2],[0.12,0.6],[0.22,0.3],[0.3,0.7],[0.38,0.35],[0.46,0.7],[0.52,0.3],[0.66,0.7],[0.74,0.3],[0.82,0.6],
  [0.91,0.3],[1.0,0.8],[1.07,0.3],[1.14,0.7],[1.21,0.35],[1.29,0.9],[1.36,0.5],[1.44,0.6],[1.51,0.3],[1.58,0.9],
  [1.66,0.5],[1.75,0.3],[1.84,0.7],[1.92,0.3],[2.0,0.8],[2.08,0.3],[2.16,0.6],[2.24,0.3],[2.32,0.8],[2.4,0.5],
  [2.47,0.8],[2.55,0.3],[2.64,0.6],[2.73,0.3],[2.81,0.7],[2.88,0.4],[2.98,1.1],[3.06,1.3],[3.13,1.0],[3.17,1.6],
  [3.39,0.6],[3.45,1.3],[3.51,0.4],[3.58,0.7],[3.66,1.1],[3.75,0.6],[3.84,1.1],[3.92,0.7],[4.0,0.4],[4.09,0.7],
  [4.17,1.1],[4.26,0.7],[4.35,0.4],[4.45,0.8],[4.55,0.6],[4.67,0.8],[4.75,0.5],[4.82,0.9],[5.04,0.7],[5.12,0.4],
  [5.19,0.8],[5.27,0.6],[5.35,0.9],[5.45,0.5],[5.54,0.8],[5.62,0.3],[5.7,1.0],[5.8,0.7],[5.92,0.5],[6.0,0.8],
  [6.09,0.6],[6.2,1.0],[6.3,0.6],[6.39,1.0],[6.48,0.4],[6.57,1.0],[6.68,0.6],[6.78,1.0],[6.87,0.6],[6.95,0.9],
  [7.05,0.4],[7.15,0.7],[7.25,1.0],[7.35,0.6],[7.46,0.9],[7.56,0.5],[7.68,1.1],[7.8,0.7],[7.9,0.4],[8.0,0.7],
  [8.1,0.4],[8.2,0.9],[8.3,0.4],[8.42,1.0],[8.53,0.4],[8.63,0.7],[8.73,1.0],[8.84,0.4],[8.95,1.0],[9.05,0.6],
  [9.15,1.1],[9.25,0.6],[9.4,0.8],[9.5,1.4],[9.6,0.5],[9.7,1.0],[9.8,0.6],[9.9,1.0],[10.0,0.7],[10.1,0.4],
  [10.2,0.8],[10.3,0.6],[10.4,0.9],[10.5,0.5],[10.6,1.0],[10.7,0.8],[10.8,0.4],[10.9,0.7],[11.0,1.0],[11.1,0.4],
  [11.2,0.8],[11.3,1.0],[11.4,0.6],[11.52,0.9],[11.63,0.5],[11.73,0.8],[11.83,0.6],[11.93,1.0],[12.01,0.5]
];

const FONT = '"Liberation Sans", Arial, sans-serif';
const toXY = (...lists) => lists.flat().map(([x, y]) => ({ x, y }));

function strokeLine(ctx, x1, y1, x2, y2) {
  ctx.beginPath(); ctx.moveTo(x1, y1); ctx.lineTo(x2, y2); ctx.stroke();
}

function rotatedText(ctx, text, x, y) {
  ctx.save();
  ctx.translate(x, y);
  ctx.rotate(-Math.PI / 2);
  ctx.textAlign = 'center';
  ctx.textBaseline = 'middle';
  ctx.fillText(text, 0, 0);
  ctx.restore();
}

// R-style frame, axes and n labels for the boxplot
const phenoAxes = {
  id: 'phenoAxes',
  afterDatasetsDraw(chart) {
    const { ctx, scales: { x, y } } = chart;
    ctx.save();
    groupSizes.forEach((n, i) => {
      const cx = x.getPixelForValue(i + 1), cy = y.getPixelForValue(groupMeans[i]);
      const rest = ' = ' + n;
      ctx.font = 'italic 7px ' + FONT; const w1 = ctx.measureText('n').width;
      ctx.font = '7px ' + FONT; const w2 = ctx.measureText(rest).width;
      const sx = cx - (w1 + w2) / 2;
      ctx.fillStyle = '#1a1a1a'; ctx.textBaseline = 'middle'; ctx.textAlign = 'left';
      ctx.font = 'italic 7px ' + FONT; ctx.fillText('n', sx, cy);
      ctx.font = '7px ' + FONT; ctx.fillText(rest, sx + w1, cy);
    });
    ctx.restore();
  },
  afterDraw(chart) {
    const { ctx, chartArea: a, scales: { x, y } } = chart;
    ctx.save();
    ctx.strokeStyle = '#555'; ctx.lineWidth = 1; ctx.setLineDash([]);
    ctx.strokeRect(Math.round(a.left) + 0.5, Math.round(a.top) + 0.5, Math.round(a.right - a.left), Math.round(a.bottom - a.top));
    ctx.fillStyle = '#333';
    ctx.font = '8px ' + FONT;
    phenoTicks.forEach(v => {
      const py = Math.round(y.getPixelForValue(v)) + 0.5;
      strokeLine(ctx, a.left - 5, py, a.left, py);
      rotatedText(ctx, v.toFixed(1), a.left - 16, py);
    });
    ctx.font = '9px ' + FONT;
    rotatedText(ctx, 'Phenotypic value', a.left - 38, (a.top + a.bottom) / 2);
    ctx.font = '8.5px ' + FONT;
    ctx.textAlign = 'center'; ctx.textBaseline = 'middle';
    flo1Alleles.forEach((g, i) => {
      const px = Math.round(x.getPixelForValue(i + 1)) + 0.5;
      strokeLine(ctx, px, a.bottom, px, a.bottom + 5);
      ctx.fillText(g, px, a.bottom + 17);
      ctx.fillText(flo8Alleles[i], px, a.bottom + 28);
    });
    ctx.fillText('FLO1', a.left - 3, a.bottom + 17);
    ctx.fillText('FLO8', a.left - 3, a.bottom + 28);
    ctx.restore();
  }
};

const cats = groupSizes.map((_, i) => i + 1);
const whiskerPath = [];
cats.forEach((c, i) => {
  whiskerPath.push({ x: c, y: boxQ3[i] }, { x: c, y: whiskerHigh[i] }, { x: c, y: null },
                   { x: c, y: boxQ1[i] }, { x: c, y: whiskerLow[i] }, { x: c, y: null });
});

new Chart(document.getElementById('phenoChart'), {
  type: 'bar',
  data: {
    datasets: [
      { type: 'scatter', data: cats.map((c, i) => ({ x: c, y: medians[i] })),
        pointStyle: 'line', pointRadius: 17, pointBorderWidth: 3, pointBorderColor: '#000', order: 0 },
      { type: 'scatter', data: cats.flatMap((c, i) => [{ x: c, y: whiskerHigh[i] }, { x: c, y: whiskerLow[i] }]),
        pointStyle: 'line', pointRadius: 8.5, pointBorderWidth: 1, pointBorderColor: '#444', order: 1 },
      { type: 'scatter', data: outlierGroup.map((g, i) => ({ x: g, y: outlierValue[i] })),
        pointStyle: 'circle', pointRadius: 2.3, pointBorderWidth: 1, pointBorderColor: '#444',
        pointBackgroundColor: 'rgba(0,0,0,0)', order: 1 },
      { type: 'bar', data: cats.map((c, i) => ({ x: c, y: [boxQ1[i], boxQ3[i]] })),
        backgroundColor: groupColors, borderColor: '#3a3a3a', borderWidth: 1, borderSkipped: false,
        barThickness: 34, order: 2 },
      { type: 'scatter', data: whiskerPath, showLine: true, spanGaps: false, borderDash: [2, 2],
        borderColor: '#777', borderWidth: 1, pointRadius: 0, order: 3 }
    ]
  },
  options: {
    responsive: false, animation: false, events: [],
    layout: { padding: { left: 61, right: 15, top: 52, bottom: 58 } },
    scales: {
      x: { type: 'linear', min: 0.17, max: 8.83, offset: false, display: false },
      y: { type: 'linear', min: -1.02, max: 0.61, display: false }
    },
    plugins: { legend: { display: false }, tooltip: { enabled: false } }
  },
  plugins: [phenoAxes]
});

// chromosome boundaries from lengths
const chrBounds = [0];
chrLengths.forEach(l => chrBounds.push(+(chrBounds[chrBounds.length - 1] + l).toFixed(3)));

const genomeAxes = {
  id: 'genomeAxes',
  beforeDatasetsDraw(chart) {
    const { ctx, chartArea: a, scales: { x, y } } = chart;
    ctx.save();
    ctx.lineWidth = 1;
    ctx.strokeStyle = '#cdcdcd'; ctx.setLineDash([1, 2]);
    chrBounds.forEach(b => {
      const px = Math.round(x.getPixelForValue(b)) + 0.5;
      strokeLine(ctx, px, a.top, px, a.bottom);
    });
    ctx.strokeStyle = '#8c8c8c'; ctx.setLineDash([1, 2.3]);
    const ty = Math.round(y.getPixelForValue(threshold)) + 0.5;
    strokeLine(ctx, a.left + 3, ty, a.right, ty);
    ctx.restore();
  },
  afterDatasetsDraw(chart) {
    const { ctx, chartArea: a, scales: { x, y } } = chart;
    ctx.save();
    // FLO8 marker
    ctx.strokeStyle = '#9a5ec8'; ctx.lineWidth = 1.3;
    const fx = x.getPixelForValue(genePos[1]);
    strokeLine(ctx, fx, a.top, fx, a.bottom + 4);
    // genome axis
    ctx.strokeStyle = '#b9b9b9'; ctx.lineWidth = 2;
    strokeLine(ctx, x.getPixelForValue(0), a.bottom, x.getPixelForValue(axisEnd), a.bottom);
    ctx.strokeStyle = '#555'; ctx.lineWidth = 1;
    ctx.fillStyle = '#333'; ctx.font = '8.5px ' + FONT; ctx.textBaseline = 'middle'; ctx.textAlign = 'left';
    geneNames.forEach((g, i) => {
      const px = Math.round(x.getPixelForValue(genePos[i])) + 0.5;
      strokeLine(ctx, px, a.bottom, px, a.bottom + 5);
      ctx.fillText(g, px - 3, a.bottom + 11);
    });
    // -log10 axis
    const ax = Math.round(a.left) + 0.5;
    strokeLine(ctx, ax, y.getPixelForValue(lodTicks[0]), ax, y.getPixelForValue(lodTicks[lodTicks.length - 1]));
    ctx.font = '8px ' + FONT;
    lodTicks.forEach(v => {
      const py = Math.round(y.getPixelForValue(v)) + 0.5;
      strokeLine(ctx, ax - 5, py, ax, py);
      rotatedText(ctx, String(v), ax - 17, py);
    });
    ctx.font = '9px ' + FONT;
    rotatedText(ctx, '-log10(p-value)', ax - 38, y.getPixelForValue(5.6));
    ctx.restore();
  }
};

const genomeSeries = [
  { pts: toXY(bluePeaks, blueBand, blueBandLow), style: 'circle', r: 2.6, color: '#2f7fd5' },
  { pts: toXY(redPeaks, redBand, redBandLow), style: 'rect', r: 3.3, color: '#dc2a2d' },
  { pts: toXY(darkGrayPeaks, darkGrayBand, darkGrayBandHigh), style: 'circle', r: 2.6, color: '#6e6e6e' },
  { pts: toXY(lightGrayPeaks, lightGrayBand, lightGrayBandMid), style: 'rect', r: 3.3, color: '#b4b4b4' }
];

new Chart(document.getElementById('genomeChart'), {
  type: 'scatter',
  data: {
    datasets: genomeSeries.map(s => ({
      data: s.pts, pointStyle: s.style, pointRadius: s.r, pointBorderWidth: 1,
      pointBorderColor: s.color, pointBackgroundColor: 'rgba(0,0,0,0)'
    }))
  },
  options: {
    responsive: false, animation: false, events: [],
    layout: { padding: { left: 50, right: 4, top: 60, bottom: 50 } },
    scales: {
      x: { type: 'linear', min: -0.48, max: 12.55, display: false },
      y: { type: 'linear', min: -0.45, max: 11.75, display: false }
    },
    plugins: { legend: { display: false }, tooltip: { enabled: false } }
  },
  plugins: [genomeAxes]
});
</script>
</body>
</html>
